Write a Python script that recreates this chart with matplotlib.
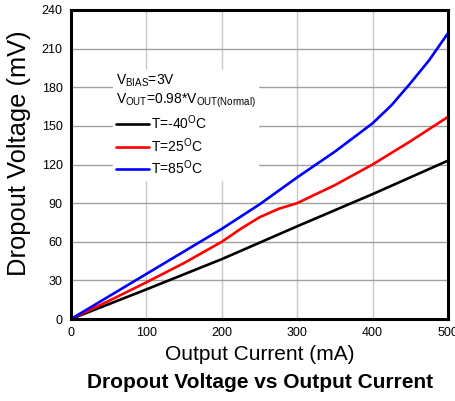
import matplotlib
matplotlib.use("Agg")
import matplotlib.pyplot as plt

plt.rcParams['font.family'] = ['Liberation Sans', 'DejaVu Sans']
plt.rcParams['mathtext.fontset'] = 'custom'
plt.rcParams['mathtext.rm'] = 'Liberation Sans'
plt.rcParams['mathtext.it'] = 'Liberation Sans:italic'
plt.rcParams['mathtext.bf'] = 'Liberation Sans:bold'

# Data (Output current mA, dropout voltage mV)
x_m40 = [0, 100, 200, 300, 400, 500]
y_m40 = [0, 23, 46.5, 72, 97, 123]

x_25 = [0, 50, 100, 150, 200, 225, 250, 275, 300, 350, 400, 450, 500]
y_25 = [0, 14, 28.5, 43.5, 60, 70, 79, 85.5, 90, 104, 120, 138, 157]

x_85 = [0, 50, 100, 150, 200, 250, 300, 350, 400, 425, 450, 475, 500]
y_85 = [0, 17.5, 35, 52.5, 70, 89, 110, 130, 152, 166, 183, 201, 222]

labels = ['T=-40$^{\\mathrm{O}}$C', 'T=25$^{\\mathrm{O}}$C', 'T=85$^{\\mathrm{O}}$C']
colors = ['#000000', '#ff0000', '#0000ff']
xticks = [0, 100, 200, 300, 400, 500]
yticks = [0, 30, 60, 90, 120, 150, 180, 210, 240]

fig = plt.figure(figsize=(4.56, 4.01), dpi=100)
ax = fig.add_axes([71/456, 1 - 319/401, (448-71)/456, (319-10)/401])

for xs, ys, c, l in zip([x_m40, x_25, x_85], [y_m40, y_25, y_85], colors, labels):
    ax.plot(xs, ys, color=c, lw=1.9, label=l, zorder=3, solid_capstyle='round',
            solid_joinstyle='round')

ax.set_xlim(0, 500)
ax.set_ylim(0, 240)
ax.set_xticks(xticks)
ax.set_yticks(yticks)
ax.tick_params(length=0, labelsize=9, pad=6)
ax.xaxis.grid(True, color='#c8c8c8', lw=1)
ax.yaxis.grid(True, color='#a0a0a0', lw=1)
ax.set_axisbelow(True)
for s in ax.spines.values():
    s.set_linewidth(2.2)
    s.set_color('black')
    s.set_zorder(5)

ax.set_xlabel('Output Current (mA)', fontsize=15, labelpad=4)
ax.set_ylabel('Dropout Voltage (mV)', fontsize=18.4, va='center')
ax.yaxis.set_label_coords((19 - 71) / 377, (319 - 153.5) / 309)
fig.text(260/456, 1 - 382/401, 'Dropout Voltage vs Output Current',
         ha='center', va='center', fontsize=15, fontweight='bold')

title = ('V$_{\\mathrm{BIAS}}$=3V\n'
         'V$_{\\mathrm{OUT}}$=0.98*V$_{\\mathrm{OUT(Normal)}}$')
leg = ax.legend(loc='upper left', bbox_to_anchor=(42/377, 1 - 60/309),
                frameon=True, fancybox=False, framealpha=1, edgecolor='white',
                fontsize=10, title=title, title_fontsize=10, alignment='left',
                handlelength=2.4, handletextpad=0.15, labelspacing=0.27,
                borderpad=0.2, borderaxespad=0)
leg.set_zorder(4)
fig.savefig('out.png', dpi=100)
